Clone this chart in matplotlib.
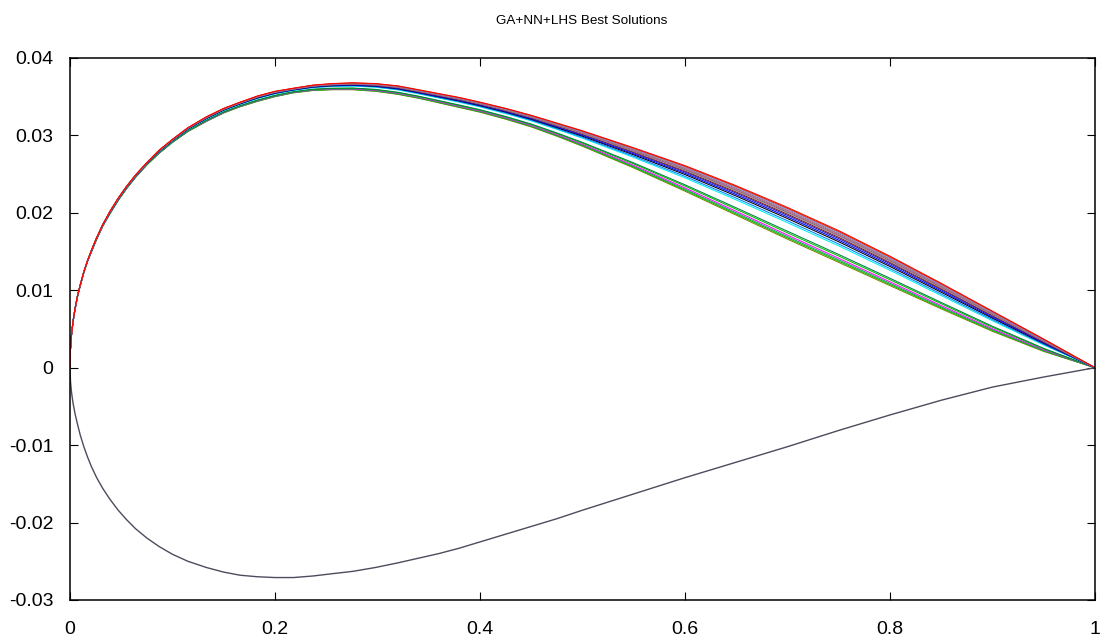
import matplotlib
matplotlib.use('Agg')
import matplotlib.pyplot as plt
import numpy as np

plt.rcParams['font.family'] = ['Liberation Sans', 'DejaVu Sans']
plt.rcParams['axes.unicode_minus'] = False

# upper surface envelope (top = red curve, bottom = olive curve)
upper_x = [0, 0.0005, 0.0015, 0.003, 0.005, 0.0075, 0.01, 0.0135, 0.017, 0.021, 0.026,
           0.032, 0.039, 0.047, 0.055, 0.064, 0.075, 0.087, 0.10, 0.115, 0.133, 0.15,
           0.166, 0.183, 0.20, 0.218, 0.237, 0.256, 0.276, 0.298, 0.32, 0.34, 0.36, 0.38,
           0.40, 0.425, 0.45, 0.475, 0.50, 0.55, 0.60, 0.65, 0.70, 0.75, 0.80, 0.85, 0.90,
           0.95, 1.0]
upper_top = [0, 0.0025, 0.0043, 0.0060, 0.0077, 0.0094, 0.0107, 0.0124, 0.0138, 0.0152,
             0.0168, 0.0185, 0.0202, 0.0219, 0.0234, 0.0249, 0.0265, 0.0281, 0.0295,
             0.0310, 0.0324, 0.0335, 0.0343, 0.0351, 0.0357, 0.0361, 0.0365, 0.0367,
             0.0368, 0.0367, 0.0364, 0.0359, 0.0354, 0.0349, 0.0343, 0.0335, 0.0326,
             0.0316, 0.0306, 0.0284, 0.0261, 0.0235, 0.0207, 0.0177, 0.0144, 0.0109,
             0.0073, 0.0037, 0]
upper_bottom = [0, 0.0025, 0.0043, 0.0060, 0.0076, 0.0093, 0.0106, 0.0123, 0.0137, 0.0150,
                0.0166, 0.0183, 0.0199, 0.0216, 0.0231, 0.0246, 0.0262, 0.0277, 0.0291,
                0.0305, 0.0318, 0.0329, 0.0337, 0.0344, 0.0350, 0.0355, 0.0358, 0.0359,
                0.0359, 0.0357, 0.0353, 0.0348, 0.0342, 0.0336, 0.0330, 0.0321, 0.0311,
                0.0299, 0.0286, 0.0258, 0.0228, 0.0197, 0.0166, 0.0136, 0.0106, 0.0076,
                0.0047, 0.0021, 0]

# lower surface, the same for every solution
lower_x = [0, 0.0005, 0.0015, 0.003, 0.005, 0.0075, 0.01, 0.0135, 0.017, 0.021, 0.026,
           0.032, 0.039, 0.047, 0.055, 0.064, 0.075, 0.087, 0.10, 0.115, 0.133, 0.15,
           0.166, 0.183, 0.20, 0.218, 0.237, 0.256, 0.276, 0.298, 0.32, 0.34, 0.36, 0.38,
           0.40, 0.425, 0.45, 0.475, 0.50, 0.55, 0.60, 0.65, 0.70, 0.75, 0.80, 0.85, 0.90,
           0.95, 1.0]
lower_y = [0, -0.0018, -0.0032, -0.0046, -0.0060, -0.0074, -0.0087, -0.0102, -0.0115,
           -0.0128, -0.0142, -0.0156, -0.0170, -0.0184, -0.0196, -0.0208, -0.0220, -0.0231,
           -0.0241, -0.0250, -0.0258, -0.0264, -0.0268, -0.0270, -0.0271, -0.0271, -0.0269,
           -0.0266, -0.0263, -0.0258, -0.0252, -0.0246, -0.0240, -0.0233, -0.0225, -0.0215,
           -0.0205, -0.0195, -0.0184, -0.0163, -0.0142, -0.0122, -0.0102, -0.0081, -0.0061,
           -0.0042, -0.0025, -0.0012, 0]

# where each solution sits inside the upper band (0 = top, 1 = bottom)
band_pos = [1.00, 0.96, 0.92, 0.87, 0.80, 0.75, 0.48, 0.42, 0.35, 0.30, 0.25, 0.21,
            0.18, 0.15, 0.12, 0.09, 0.06, 0.03, 0.00]
line_colors = ['#808000', '#00c000', '#20a060', '#ff00ff', '#00c000', '#008040', '#00eeee',
               '#0080ff', '#000000', '#0000ff', '#2020c0', '#800000', '#a0a0a0', '#806080',
               '#c06080', '#808080', '#a080ff', '#c04000', '#ff0000']

x_ticks = [0, 0.2, 0.4, 0.6, 0.8, 1]
y_ticks = [-0.03, -0.02, -0.01, 0, 0.01, 0.02, 0.03, 0.04]

fig = plt.figure(figsize=(11.04, 6.39), dpi=100)
ax = fig.add_axes([70 / 1104, 1 - 600 / 639, 1025 / 1104, 542 / 639])

ut = np.array(upper_top)
ub = np.array(upper_bottom)
for pos, col in zip(band_pos, line_colors):
    ax.plot(upper_x, ut + (ub - ut) * pos, color=col, lw=0.75)
ax.plot(lower_x, lower_y, color='#4c4c5c', lw=1.0)

ax.set_xlim(0, 1)
ax.set_ylim(-0.03, 0.04)
ax.set_xticks(x_ticks)
ax.set_yticks(y_ticks)
ax.set_xticklabels([f'{v:g}' for v in x_ticks])
ax.set_yticklabels([f'{v:g}' for v in y_ticks])
ax.tick_params(direction='in', length=6, width=0.8, top=True, right=True,
               labelsize=14, colors='black')
ax.tick_params(axis='x', pad=15)
ax.tick_params(axis='y', pad=12)
for s in ax.spines.values():
    s.set_linewidth(1.1)

fig.text(582 / 1104, 1 - 21 / 639, 'GA+NN+LHS Best Solutions', ha='center', va='center',
         fontsize=9.7)

fig.savefig('out.png', dpi=100)
